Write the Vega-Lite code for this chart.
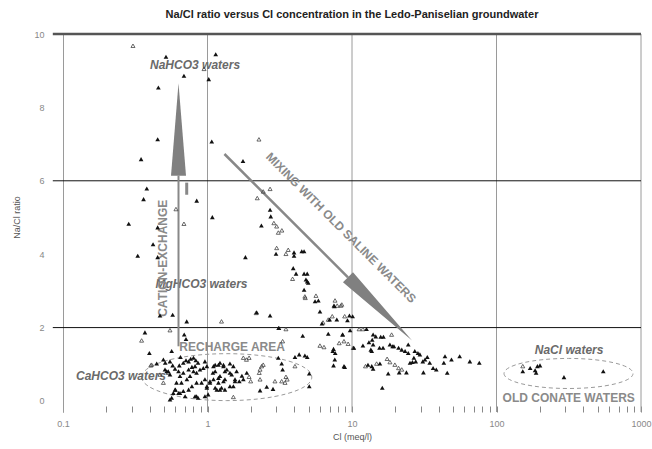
{
  "$schema": "https://vega.github.io/schema/vega-lite/v6.json",
  "width": 578,
  "height": 378,
  "autosize": "none",
  "padding": {"left": 63, "top": 34, "right": 11, "bottom": 37},
  "config": {"view": {"stroke": null}, "font": "Liberation Sans"},
  "title": {"text": "Na/Cl ratio versus Cl concentration in the Ledo-Paniselian groundwater", "fontSize": 11, "fontWeight": "bold", "font": "Liberation Sans", "color": "#222", "offset": 10, "anchor": "middle"},
  "datasets": {
    "vgrid": [{"x": 1}, {"x": 10}, {"x": 100}, {"x": 1000}],
    "hgrid": [{"y": 2}, {"y": 6}],
    "topline": [{"y": 10}],
    "shafts": [
      {"kind": "vertical", "x": 0.63, "y": 1.49, "x2": 0.63, "y2": 6.14},
      {"kind": "diagonal", "x": 1.31, "y": 6.73, "x2": 9.38, "y2": 3.37},
      {"kind": "tick", "x": 0.718, "y": 5.62, "x2": 0.718, "y2": 5.95}
    ],
    "headv": [
      {"y": 6.14, "x": 0.559, "x2": 0.71},
      {"y": 8.66, "x": 0.63, "x2": 0.63}
    ],
    "headd": [
      {"x": 8.66, "y": 3.238, "y2": 3.238},
      {"x": 10.16, "y": 3.51, "y2": 3.007},
      {"x": 26.02, "y": 1.646, "y2": 1.646}
    ],
    "recharge": [{"x": 1.36, "y": 0.65}],
    "conate": [{"x": 315, "y": 0.75}],
    "italic": [
      {"label": "NaHCO3 waters", "x": 0.82, "y": 9.16},
      {"label": "MgHCO3 waters", "x": 0.909, "y": 3.2},
      {"label": "CaHCO3 waters", "x": 0.252, "y": 0.67},
      {"label": "NaCl waters", "x": 318, "y": 1.4}
    ],
    "caps": [
      {"label": "RECHARGE AREA", "x": 1.48, "y": 1.48},
      {"label": "OLD CONATE WATERS", "x": 316, "y": 0.07}
    ],
    "cation": [{"label": "CATION-EXCHANGE", "x": 0.489, "y": 3.89}],
    "mixing": [{"label": "MIXING WITH OLD SALINE WATERS", "x": 8.39, "y": 4.72}],
    "points": [
      {"x":0.305,"y":9.68,"t":"o"},{"x":0.516,"y":9.38,"t":"f"},{"x":1.14,"y":9.45,"t":"f"},{"x":0.946,"y":9.05,"t":"o"},{"x":0.687,"y":8.86,"t":"f"},{"x":1.02,"y":8.77,"t":"f"},{"x":0.457,"y":8.54,"t":"f"},{"x":0.452,"y":7.13,"t":"f"},{"x":1.07,"y":7.07,"t":"f"},{"x":2.27,"y":7.13,"t":"o"},{"x":0.347,"y":6.59,"t":"f"},{"x":1.76,"y":6.54,"t":"f"},
      {"x":0.38,"y":5.79,"t":"f"},{"x":0.361,"y":5.5,"t":"f"},{"x":0.842,"y":5.46,"t":"f"},{"x":0.605,"y":5.23,"t":"o"},{"x":0.285,"y":4.83,"t":"f"},{"x":0.452,"y":4.73,"t":"f"},{"x":0.687,"y":4.83,"t":"o"},{"x":0.42,"y":4.27,"t":"f"},{"x":0.329,"y":3.96,"t":"f"},{"x":0.452,"y":3.92,"t":"f"},
      {"x":1.08,"y":5.01,"t":"f"},{"x":0.469,"y":2.33,"t":"f"},{"x":0.574,"y":2.35,"t":"f"},{"x":0.718,"y":2.17,"t":"f"},{"x":1.83,"y":3.92,"t":"f"},{"x":2.36,"y":4.78,"t":"f"},{"x":2.71,"y":5.21,"t":"f"},{"x":2.74,"y":5.03,"t":"f"},
      {"x":2.19,"y":2.42,"t":"f"},{"x":2.71,"y":2.33,"t":"f"},{"x":1.25,"y":2.17,"t":"o"},{"x":3.11,"y":1.99,"t":"f"},
      {"x":2.71,"y":5.78,"t":"o"},{"x":2.43,"y":5.71,"t":"o"},{"x":2.21,"y":5.53,"t":"o"},{"x":2.88,"y":4.85,"t":"o"},{"x":3.01,"y":4.76,"t":"o"},{"x":3.09,"y":4.59,"t":"o"},{"x":3.27,"y":4.65,"t":"o"},
      {"x":3.01,"y":4.17,"t":"o"},{"x":2.98,"y":4.01,"t":"f"},{"x":3.49,"y":4.01,"t":"o"},{"x":3.62,"y":4.12,"t":"o"},{"x":3.97,"y":4.05,"t":"f"},{"x":3.97,"y":3.96,"t":"f"},{"x":4.49,"y":4.08,"t":"f"},{"x":4.66,"y":4.08,"t":"f"},
      {"x":3.92,"y":3.62,"t":"f"},{"x":4.1,"y":3.47,"t":"f"},{"x":3.88,"y":3.33,"t":"o"},{"x":4.66,"y":3.47,"t":"f"},{"x":4.9,"y":3.47,"t":"f"},{"x":4.8,"y":3.31,"t":"f"},{"x":4.9,"y":3.26,"t":"f"},{"x":4.98,"y":3.22,"t":"f"},{"x":4.66,"y":3.03,"t":"f"},
      {"x":5.63,"y":2.87,"t":"o"},{"x":4.75,"y":2.81,"t":"o"},{"x":5.55,"y":2.72,"t":"f"},{"x":5.85,"y":2.74,"t":"f"},{"x":7.63,"y":2.74,"t":"o"},{"x":7.5,"y":2.6,"t":"f"},{"x":8.37,"y":2.6,"t":"o"},
      {"x":4.72,"y":2.85,"t":"o"},{"x":6.0,"y":2.44,"t":"f"},{"x":6.3,"y":2.14,"t":"o"},{"x":6.85,"y":2.22,"t":"o"},{"x":7.3,"y":2.31,"t":"o"},{"x":7.9,"y":2.6,"t":"o"},{"x":8.5,"y":2.63,"t":"o"},{"x":8.9,"y":2.31,"t":"o"},
      {"x":10.1,"y":2.31,"t":"f"},{"x":12.6,"y":1.96,"t":"f"},{"x":11.2,"y":1.96,"t":"o"},{"x":11.9,"y":1.96,"t":"o"},{"x":8.62,"y":1.81,"t":"f"},{"x":9.7,"y":1.93,"t":"f"},{"x":14.0,"y":1.81,"t":"f"},{"x":14.6,"y":1.76,"t":"f"},{"x":13.8,"y":1.67,"t":"f"},{"x":15.8,"y":1.75,"t":"f"},{"x":16.5,"y":1.75,"t":"f"},{"x":18.8,"y":1.81,"t":"o"},
      {"x":13.1,"y":1.6,"t":"f"},{"x":14.0,"y":1.54,"t":"f"},{"x":13.5,"y":1.4,"t":"f"},{"x":13.7,"y":1.36,"t":"f"},{"x":11.9,"y":1.51,"t":"f"},{"x":15.5,"y":1.45,"t":"f"},{"x":16.4,"y":1.45,"t":"f"},{"x":18.3,"y":1.54,"t":"f"},{"x":19.1,"y":1.49,"t":"f"},{"x":19.5,"y":1.49,"t":"f"},
      {"x":21.0,"y":1.45,"t":"f"},{"x":22.1,"y":1.4,"t":"f"},{"x":23.3,"y":1.36,"t":"f"},{"x":24.5,"y":1.31,"t":"f"},{"x":24.5,"y":1.54,"t":"f"},{"x":27.2,"y":1.36,"t":"f"},{"x":28.6,"y":1.31,"t":"f"},{"x":29.5,"y":1.27,"t":"f"},{"x":26.8,"y":1.18,"t":"f"},{"x":27.6,"y":1.08,"t":"f"},{"x":26.2,"y":1.06,"t":"f"},{"x":25.2,"y":1.04,"t":"f"},
      {"x":30.9,"y":1.08,"t":"f"},{"x":32.0,"y":1.13,"t":"f"},{"x":33.2,"y":1.2,"t":"f"},{"x":34.5,"y":1.04,"t":"f"},{"x":36.4,"y":0.9,"t":"f"},{"x":38.3,"y":0.86,"t":"f"},{"x":44.0,"y":1.22,"t":"f"},{"x":48.8,"y":1.13,"t":"f"},{"x":55.6,"y":1.22,"t":"f"},{"x":65.4,"y":1.08,"t":"f"},{"x":76.0,"y":1.04,"t":"f"},{"x":43.2,"y":1.04,"t":"f"},
      {"x":45.6,"y":0.77,"t":"f"},{"x":31.2,"y":0.78,"t":"f"},{"x":23.8,"y":0.78,"t":"f"},{"x":21.2,"y":0.78,"t":"f"},{"x":17.8,"y":0.75,"t":"f"},{"x":16.2,"y":0.36,"t":"f"},{"x":14.0,"y":0.88,"t":"f"},{"x":13.7,"y":0.95,"t":"f"},{"x":15.6,"y":1.02,"t":"f"},{"x":14.8,"y":1.02,"t":"o"},{"x":12.9,"y":0.99,"t":"f"},{"x":12.4,"y":0.95,"t":"o"},{"x":8.9,"y":0.93,"t":"f"},{"x":10.2,"y":1.45,"t":"o"},
      {"x":18.3,"y":1.06,"t":"o"},{"x":19.8,"y":0.99,"t":"o"},{"x":21.0,"y":0.9,"t":"o"},{"x":22.1,"y":0.86,"t":"o"},{"x":17.5,"y":1.15,"t":"o"},
      {"x":2.17,"y":2.4,"t":"o"},{"x":3.12,"y":1.99,"t":"f"},{"x":3.49,"y":1.96,"t":"o"},{"x":4.56,"y":1.78,"t":"f"},{"x":6.2,"y":2.11,"t":"f"},{"x":7.0,"y":2.22,"t":"f"},{"x":7.55,"y":2.58,"t":"f"},{"x":7.85,"y":2.22,"t":"f"},{"x":9.3,"y":2.2,"t":"f"},{"x":9.6,"y":2.33,"t":"f"},{"x":6.85,"y":1.83,"t":"f"},{"x":8.6,"y":1.81,"t":"f"},
      {"x":3.31,"y":1.63,"t":"o"},{"x":6.0,"y":1.51,"t":"o"},{"x":6.4,"y":1.47,"t":"o"},{"x":7.45,"y":1.42,"t":"f"},{"x":7.65,"y":1.31,"t":"f"},{"x":7.36,"y":1.36,"t":"f"},{"x":8.15,"y":1.58,"t":"o"},{"x":8.8,"y":1.63,"t":"o"},{"x":9.4,"y":1.56,"t":"o"},{"x":10.3,"y":1.45,"t":"f"},{"x":7.6,"y":1.13,"t":"f"},{"x":8.8,"y":0.95,"t":"f"},{"x":7.45,"y":0.97,"t":"f"},
      {"x":3.09,"y":1.18,"t":"f"},{"x":4.03,"y":1.2,"t":"f"},{"x":4.31,"y":1.27,"t":"f"},{"x":4.72,"y":1.24,"t":"f"},{"x":4.9,"y":1.2,"t":"f"},{"x":3.26,"y":1.02,"t":"f"},{"x":3.31,"y":0.86,"t":"f"},{"x":4.03,"y":0.95,"t":"o"},{"x":5.06,"y":0.75,"t":"f"},{"x":5.06,"y":0.4,"t":"f"},
      {"x":3.49,"y":0.66,"t":"o"},{"x":3.56,"y":0.59,"t":"o"},{"x":3.44,"y":0.5,"t":"o"},{"x":3.26,"y":0.54,"t":"o"},{"x":2.93,"y":0.54,"t":"o"},{"x":2.84,"y":0.33,"t":"f"},{"x":2.57,"y":0.39,"t":"f"},{"x":2.31,"y":0.29,"t":"f"},{"x":2.31,"y":0.86,"t":"o"},{"x":2.37,"y":0.95,"t":"o"},{"x":2.43,"y":0.99,"t":"o"},{"x":2.28,"y":0.77,"t":"o"},{"x":2.31,"y":0.59,"t":"o"},
      {"x":1.77,"y":1.18,"t":"o"},{"x":1.86,"y":1.13,"t":"o"},{"x":1.94,"y":1.18,"t":"o"},{"x":1.51,"y":0.11,"t":"o"},
      {"x":0.96,"y":1.08,"t":"f"},{"x":0.99,"y":0.95,"t":"f"},{"x":1.13,"y":0.99,"t":"f"},{"x":1.22,"y":1.04,"t":"f"},{"x":1.29,"y":0.95,"t":"f"},{"x":1.43,"y":1.02,"t":"f"},{"x":1.32,"y":0.81,"t":"f"},{"x":1.47,"y":0.72,"t":"f"},{"x":1.59,"y":0.81,"t":"f"},{"x":1.55,"y":0.59,"t":"f"},{"x":1.51,"y":0.4,"t":"f"},{"x":1.29,"y":0.54,"t":"f"},{"x":1.25,"y":0.36,"t":"f"},
      {"x":1.16,"y":0.31,"t":"f"},{"x":1.04,"y":0.5,"t":"f"},{"x":0.99,"y":0.36,"t":"f"},{"x":0.96,"y":0.13,"t":"f"},{"x":1.87,"y":0.77,"t":"f"},{"x":1.94,"y":0.66,"t":"o"},{"x":1.99,"y":0.54,"t":"o"},{"x":1.77,"y":0.59,"t":"f"},{"x":1.73,"y":0.69,"t":"f"},{"x":1.66,"y":0.54,"t":"f"},{"x":1.19,"y":0.63,"t":"f"},{"x":1.1,"y":0.59,"t":"f"},{"x":1.09,"y":0.77,"t":"f"},
      {"x":0.396,"y":1.31,"t":"f"},{"x":0.565,"y":1.36,"t":"f"},{"x":0.495,"y":1.13,"t":"f"},{"x":0.55,"y":1.08,"t":"f"},{"x":0.574,"y":0.97,"t":"f"},{"x":0.445,"y":1.02,"t":"f"},{"x":0.41,"y":0.99,"t":"o"},{"x":0.522,"y":0.81,"t":"f"},{"x":0.55,"y":0.72,"t":"f"},{"x":0.596,"y":0.88,"t":"f"},{"x":0.638,"y":0.97,"t":"f"},
      {"x":0.68,"y":1.04,"t":"f"},{"x":0.71,"y":1.11,"t":"f"},{"x":0.74,"y":1.08,"t":"f"},{"x":0.765,"y":1.15,"t":"f"},{"x":0.8,"y":1.18,"t":"f"},{"x":0.83,"y":1.11,"t":"f"},{"x":0.86,"y":1.04,"t":"f"},{"x":0.82,"y":0.95,"t":"f"},{"x":0.78,"y":0.93,"t":"f"},{"x":0.74,"y":0.86,"t":"f"},{"x":0.8,"y":0.81,"t":"f"},{"x":0.84,"y":0.77,"t":"f"},
      {"x":0.887,"y":0.86,"t":"f"},{"x":0.935,"y":0.9,"t":"f"},{"x":0.757,"y":0.68,"t":"f"},{"x":0.72,"y":0.59,"t":"f"},{"x":0.68,"y":0.77,"t":"f"},{"x":0.645,"y":0.68,"t":"f"},{"x":0.61,"y":0.5,"t":"f"},{"x":0.596,"y":0.31,"t":"f"},{"x":0.58,"y":0.22,"t":"f"},{"x":0.63,"y":0.22,"t":"f"},{"x":0.68,"y":0.27,"t":"f"},{"x":0.74,"y":0.31,"t":"f"},
      {"x":0.78,"y":0.4,"t":"f"},{"x":0.84,"y":0.5,"t":"f"},{"x":0.91,"y":0.5,"t":"f"},{"x":0.96,"y":0.59,"t":"f"},{"x":0.82,"y":0.13,"t":"f"},{"x":0.86,"y":0.09,"t":"f"},{"x":0.565,"y":0.09,"t":"f"},{"x":0.55,"y":0.04,"t":"f"},{"x":0.99,"y":0.4,"t":"f"},{"x":1.04,"y":0.54,"t":"f"},{"x":1.13,"y":0.81,"t":"f"},{"x":1.1,"y":0.95,"t":"f"},
      {"x":1.19,"y":0.99,"t":"f"},{"x":1.29,"y":0.99,"t":"f"},{"x":1.36,"y":0.86,"t":"f"},{"x":1.43,"y":0.77,"t":"f"},{"x":1.51,"y":0.95,"t":"f"},{"x":1.22,"y":0.68,"t":"f"},{"x":1.32,"y":0.59,"t":"f"},{"x":1.19,"y":0.5,"t":"f"},{"x":1.13,"y":0.36,"t":"f"},{"x":1.22,"y":0.31,"t":"f"},{"x":1.32,"y":0.31,"t":"f"},{"x":1.43,"y":0.4,"t":"f"},
      {"x":1.55,"y":0.54,"t":"f"},{"x":1.01,"y":0.18,"t":"f"},{"x":0.63,"y":0.81,"t":"f"},{"x":0.66,"y":0.5,"t":"f"},{"x":0.535,"y":0.77,"t":"o"},{"x":0.495,"y":0.5,"t":"o"},
      {"x":0.369,"y":1.87,"t":"f"},{"x":0.35,"y":1.65,"t":"o"},{"x":0.55,"y":1.93,"t":"o"},{"x":0.69,"y":1.81,"t":"f"},{"x":0.71,"y":1.69,"t":"f"},{"x":0.65,"y":1.2,"t":"f"},{"x":0.405,"y":0.97,"t":"o"},{"x":0.51,"y":1.04,"t":"f"},{"x":0.508,"y":0.86,"t":"f"},{"x":0.535,"y":0.81,"t":"f"},{"x":0.469,"y":0.72,"t":"o"},
      {"x":0.6,"y":0.31,"t":"f"},{"x":0.645,"y":0.22,"t":"f"},{"x":0.7,"y":0.13,"t":"f"},{"x":0.84,"y":0.13,"t":"f"},
      {"x":152,"y":0.95,"t":"o"},{"x":152,"y":0.81,"t":"f"},{"x":171,"y":0.9,"t":"f"},{"x":185,"y":0.84,"t":"f"},{"x":192,"y":0.95,"t":"f"},{"x":200,"y":0.97,"t":"f"},{"x":188,"y":0.77,"t":"f"},{"x":293,"y":0.65,"t":"f"},{"x":548,"y":0.81,"t":"f"}
    ]
  },
  "layer": [
    {
      "data": {"name": "vgrid"},
      "mark": {"type": "rule", "color": "#9a9a9a", "strokeWidth": 1},
      "encoding": {
        "x": {"field": "x", "type": "quantitative", "scale": {"type": "log", "domain": [0.1, 1000]},
          "axis": {"title": "Cl (meq/l)", "titleFont": "Liberation Sans", "titleFontSize": 9, "titleFontWeight": "normal", "titleColor": "#555", "titlePadding": 4,
            "values": [0.1,0.2,0.3,0.4,0.5,0.6,0.7,0.8,0.9,1,2,3,4,5,6,7,8,9,10,20,30,40,50,60,70,80,90,100,200,300,400,500,600,700,800,900,1000],
            "labelExpr": "indexof([0.1,1,10,100,1000], datum.value) >= 0 ? datum.label : ''",
            "format": "~g", "labelFontSize": 9, "labelColor": "#888", "labelFont": "Liberation Sans", "labelFlush": false, "labelOverlap": false,
            "domain": false, "grid": false, "tickColor": "#888", "tickSize": -6, "labelPadding": 13}}
      }
    },
    {
      "data": {"name": "hgrid"},
      "mark": {"type": "rule", "color": "#111", "strokeWidth": 1},
      "encoding": {
        "x": {"datum": 0.085, "type": "quantitative"},
        "x2": {"datum": 1000},
        "y": {"field": "y", "type": "quantitative", "scale": {"domain": [-0.3, 10], "nice": false, "zero": false},
          "axis": {"title": "Na/Cl ratio", "titleFont": "Liberation Sans", "titleFontSize": 9, "titleFontWeight": "normal", "titleColor": "#555", "titleX": -42, "titleY": 183,
            "values": [0,1,2,3,4,5,6,7,8,9,10],
            "labelExpr": "datum.value % 2 == 0 ? datum.label : ''",
            "labelFontSize": 9, "labelColor": "#888", "labelFont": "Liberation Sans", "labelPadding": 14,
            "domain": true, "domainColor": "#9a9a9a", "grid": false, "tickSize": 5, "tickColor": "#666",
            "tickOpacity": {"condition": {"test": "datum.value % 2 == 1", "value": 1}, "value": 0}}}
      }
    },
    {
      "data": {"name": "topline"},
      "mark": {"type": "rule", "color": "#555", "strokeWidth": 2.5},
      "encoding": {
        "x": {"datum": 0.085, "type": "quantitative"},
        "x2": {"datum": 1000},
        "y": {"field": "y", "type": "quantitative"}
      }
    },
    {
      "data": {"name": "recharge"},
      "mark": {"type": "point", "shape": "M -1 0 A 1 0.276 0 1 0 1 0 A 1 0.276 0 1 0 -1 0 Z", "size": 28900, "filled": false, "stroke": "#9a9a9a", "strokeWidth": 1, "strokeDash": [4, 3], "opacity": 1},
      "encoding": {
        "x": {"field": "x", "type": "quantitative"},
        "y": {"field": "y", "type": "quantitative"}
      }
    },
    {
      "data": {"name": "conate"},
      "mark": {"type": "point", "shape": "M -1 0 A 1 0.233 0 1 0 1 0 A 1 0.233 0 1 0 -1 0 Z", "size": 16641, "filled": false, "stroke": "#9a9a9a", "strokeWidth": 1, "strokeDash": [4, 3], "opacity": 1},
      "encoding": {
        "x": {"field": "x", "type": "quantitative"},
        "y": {"field": "y", "type": "quantitative"}
      }
    },
    {
      "data": {"name": "italic"},
      "mark": {"type": "text", "font": "Liberation Sans", "fontSize": 12, "fontStyle": "italic", "fontWeight": "bold", "color": "#6a6a6a", "align": "center", "baseline": "middle"},
      "encoding": {
        "x": {"field": "x", "type": "quantitative"},
        "y": {"field": "y", "type": "quantitative"},
        "text": {"field": "label"}
      }
    },
    {
      "data": {"name": "caps"},
      "mark": {"type": "text", "font": "Liberation Sans", "fontSize": 12, "fontWeight": "bold", "color": "#8a8a8a", "align": "center", "baseline": "middle"},
      "encoding": {
        "x": {"field": "x", "type": "quantitative"},
        "y": {"field": "y", "type": "quantitative"},
        "text": {"field": "label"}
      }
    },
    {
      "data": {"name": "cation"},
      "mark": {"type": "text", "font": "Liberation Sans", "fontSize": 12, "fontWeight": "bold", "color": "#8a8a8a", "align": "center", "baseline": "middle", "angle": 270},
      "encoding": {
        "x": {"field": "x", "type": "quantitative"},
        "y": {"field": "y", "type": "quantitative"},
        "text": {"field": "label"}
      }
    },
    {
      "data": {"name": "mixing"},
      "mark": {"type": "text", "font": "Liberation Sans", "fontSize": 12, "fontWeight": "bold", "color": "#8a8a8a", "align": "center", "baseline": "middle", "angle": 45},
      "encoding": {
        "x": {"field": "x", "type": "quantitative"},
        "y": {"field": "y", "type": "quantitative"},
        "text": {"field": "label"}
      }
    },
    {
      "data": {"name": "shafts"},
      "mark": {"type": "rule", "color": "#888"},
      "encoding": {
        "x": {"field": "x", "type": "quantitative"},
        "y": {"field": "y", "type": "quantitative"},
        "x2": {"field": "x2"},
        "y2": {"field": "y2"},
        "strokeWidth": {"field": "kind", "type": "nominal", "scale": {"domain": ["vertical", "diagonal", "tick"], "range": [2, 3, 1.5]}, "legend": null}
      }
    },
    {
      "data": {"name": "headv"},
      "mark": {"type": "area", "orient": "horizontal", "color": "#808080", "opacity": 1},
      "encoding": {
        "y": {"field": "y", "type": "quantitative"},
        "x": {"field": "x", "type": "quantitative"},
        "x2": {"field": "x2"}
      }
    },
    {
      "data": {"name": "headd"},
      "mark": {"type": "area", "orient": "vertical", "color": "#808080", "opacity": 1},
      "encoding": {
        "x": {"field": "x", "type": "quantitative"},
        "y": {"field": "y", "type": "quantitative"},
        "y2": {"field": "y2"}
      }
    },
    {
      "data": {"name": "points"},
      "transform": [{"filter": "datum.t == 'o'"}],
      "mark": {"type": "point", "shape": "triangle-up", "size": 16, "filled": false, "stroke": "#444", "strokeWidth": 0.8, "opacity": 1},
      "encoding": {
        "x": {"field": "x", "type": "quantitative"},
        "y": {"field": "y", "type": "quantitative"}
      }
    },
    {
      "data": {"name": "points"},
      "transform": [{"filter": "datum.t == 'f'"}],
      "mark": {"type": "point", "shape": "triangle-up", "size": 22, "filled": true, "color": "#111", "opacity": 1},
      "encoding": {
        "x": {"field": "x", "type": "quantitative"},
        "y": {"field": "y", "type": "quantitative"}
      }
    }
  ]
}
